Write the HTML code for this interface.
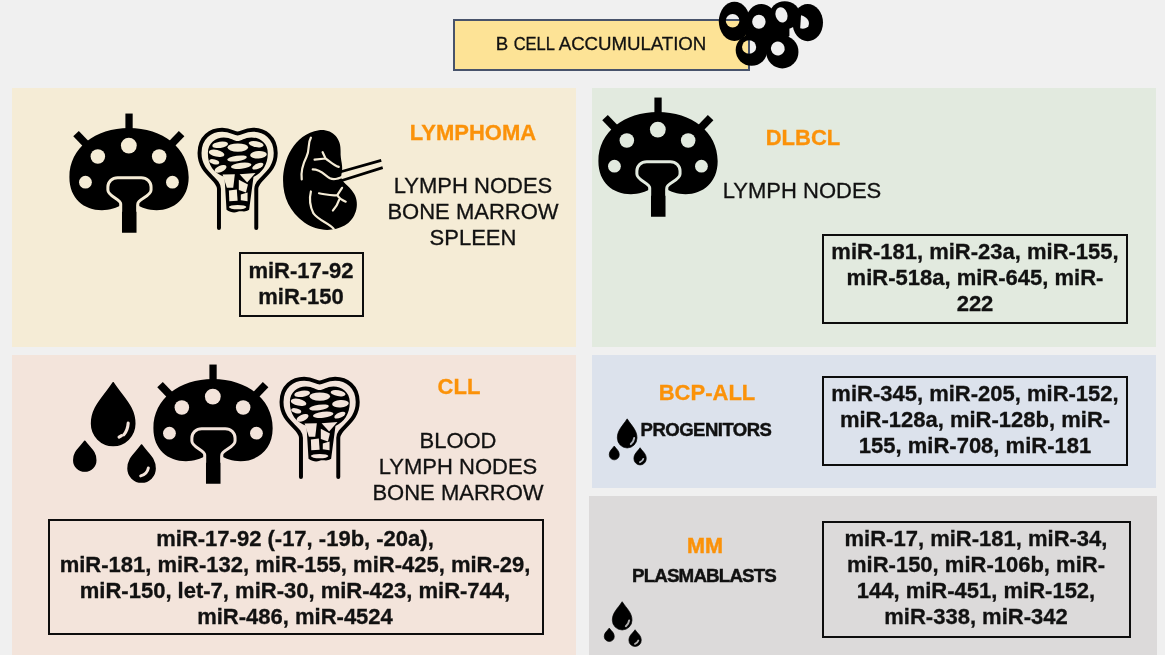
<!DOCTYPE html>
<html><head><meta charset="utf-8">
<style>
html,body{margin:0;padding:0;}
body{width:1165px;height:655px;background:#f0f0f0;position:relative;overflow:hidden;font-family:"Liberation Sans",sans-serif;color:#111;}
.p{position:absolute;}
.t{position:absolute;will-change:transform;-webkit-text-stroke:0.3px #111;white-space:nowrap;text-align:center;font-size:22px;line-height:26.1px;transform:translateX(-50%);}
.b{font-weight:bold;}
.o{color:#fb9209;font-weight:bold;-webkit-text-stroke:0.3px #fb9209;}
.box{position:absolute;box-sizing:border-box;border:2px solid #0d0d0d;}
svg{position:absolute;overflow:visible;}
</style></head><body>

<svg width="0" height="0" style="position:absolute">
<defs>
<!-- lymph node: viewBox 0 0 655 655 == 140x140 px -->
<symbol id="ln" viewBox="0 0 655 655">
  <g fill="#000" stroke="none">
  <path d="M322 108 C480 108 602 200 602 338 C602 438 532 492 452 492 C412 492 382 482 358 466 L358 598 L290 598 L290 466 C268 482 232 492 196 492 C112 492 44 438 44 338 C44 200 166 108 322 108 Z"/>
  <rect x="306" y="40" width="34" height="90"/>
  <path d="M62 146 L88 122 L150 186 L124 210 Z"/>
  <path d="M582 146 L556 122 L494 186 L520 210 Z"/>
  </g>
  <g fill="var(--bg)">
  <circle cx="322" cy="190" r="37"/>
  <circle cx="177" cy="241" r="34"/>
  <circle cx="464" cy="241" r="34"/>
  <circle cx="119" cy="361" r="30"/>
  <circle cx="526" cy="361" r="30"/>
  </g>
  <path d="M284 500 L284 462 C284 440 224 428 224 398 L224 384 C224 358 244 340 270 340 L380 340 C406 340 426 358 426 384 L426 398 C426 428 364 440 364 462 L364 500" fill="none" stroke="var(--bg)" stroke-width="14" stroke-linecap="butt"/>
</symbol>

<!-- drops: viewBox 0 0 600 655 == 110x120 px -->
<symbol id="dr" viewBox="0 0 600 655">
  <path fill="#000" stroke="#000" stroke-width="8" stroke-linejoin="round" d="M290 69.2 C349.0 159.1 408.0 202.0 408.0 294.0 A118.0 118.0 0 1 1 172.0 294.0 C172.0 202.0 231.0 159.1 290 69.2 Z M135 389.2 C165.0 430.3 195.0 445.2 195.0 492.0 A60.0 60.0 0 1 1 75.0 492.0 C75.0 445.2 105.0 430.3 135 389.2 Z M445 409.2 C482.0 460.7 519.0 480.3 519.0 538.0 A74.0 74.0 0 1 1 371.0 538.0 C371.0 480.3 408.0 460.7 445 409.2 Z"/>
  <path d="M372 290 C370 320 360 340 348 354" fill="none" stroke="var(--bg)" stroke-width="17" stroke-linecap="round"/>
  <path d="M322 366 L336 358" fill="none" stroke="var(--bg)" stroke-width="17" stroke-linecap="round"/>
  <path d="M482 535 C478 558 462 572 440 578" fill="none" stroke="var(--bg)" stroke-width="16" stroke-linecap="round"/>
</symbol>

<symbol id="drs" viewBox="0 0 600 655" preserveAspectRatio="none">
  <path fill="#000" stroke="#000" stroke-width="8" stroke-linejoin="round" d="M290 69.2 C349.0 159.1 408.0 202.0 408.0 294.0 A118.0 118.0 0 1 1 172.0 294.0 C172.0 202.0 231.0 159.1 290 69.2 Z M135 389.2 C165.0 430.3 195.0 445.2 195.0 492.0 A60.0 60.0 0 1 1 75.0 492.0 C75.0 445.2 105.0 430.3 135 389.2 Z M445 409.2 C482.0 460.7 519.0 480.3 519.0 538.0 A74.0 74.0 0 1 1 371.0 538.0 C371.0 480.3 408.0 460.7 445 409.2 Z"/>
  <path d="M374 296 C370 326 356 348 334 366" fill="none" stroke="var(--bg)" stroke-width="24" stroke-linecap="round" stroke-opacity="0.8"/>
  <path d="M484 540 C478 560 464 572 444 580" fill="none" stroke="var(--bg)" stroke-width="22" stroke-linecap="round" stroke-opacity="0.8"/>
</symbol>
<!-- bone: viewBox 0 0 504 655 == 100x130 px -->
<symbol id="bn" viewBox="0 0 504 655">
  <path d="M146 570 L146 372 C146 318 48 296 48 192 C48 112 104 74 162 74 C206 74 222 93 240 93 C258 93 274 74 318 74 C376 74 432 112 432 192 C432 296 334 318 334 372 L334 570" fill="none" stroke="#000" stroke-width="20" stroke-linecap="round" stroke-linejoin="round"/>
  <path d="M184 478 L174 312 C120 292 90 256 90 192 C90 140 130 113 170 113 C206 113 222 131 240 131 C258 131 274 113 310 113 C350 113 392 140 392 192 C392 256 362 292 320 312 L298 478 C276 494 258 480 240 488 C224 494 204 492 184 478 Z" fill="#000"/>
  <g fill="var(--bg)">
    <ellipse cx="152" cy="150" rx="40" ry="16" transform="rotate(-8 152 150)"/>
    <ellipse cx="241" cy="164" rx="52" ry="21"/>
    <ellipse cx="333" cy="147" rx="38" ry="15" transform="rotate(10 333 147)"/>
    <ellipse cx="134" cy="193" rx="40" ry="17" transform="rotate(12 134 193)"/>
    <ellipse cx="345" cy="200" rx="42" ry="19" transform="rotate(-4 345 200)"/>
    <ellipse cx="237" cy="219" rx="50" ry="14" transform="rotate(-8 237 219)"/>
    <ellipse cx="122" cy="236" rx="26" ry="12" transform="rotate(14 122 236)"/>
    <ellipse cx="258" cy="256" rx="52" ry="15" transform="rotate(-7 258 256)"/>
    <ellipse cx="154" cy="271" rx="32" ry="16" transform="rotate(-24 154 271)"/>
    <ellipse cx="342" cy="258" rx="30" ry="13" transform="rotate(-24 342 258)"/>
    <path d="M164 300 L226 298 L218 366 L186 366 Z"/>
    <path d="M250 298 L330 292 L288 340 Z"/>
    <path d="M246 326 L292 350 L282 390 L246 378 Z"/>
    <path d="M196 380 L236 376 L240 432 L198 434 Z"/>
    <path d="M256 400 L290 390 L290 434 L256 430 Z"/>
    <ellipse cx="240" cy="464" rx="44" ry="11"/>
  </g>
</symbol>

<!-- spleen: viewBox 0 0 655 655 == 120x120 px -->
<symbol id="sp" viewBox="0 0 655 655">
  <path d="M240 56 C312 48 362 100 358 172 C356 222 376 252 362 300 C354 336 402 352 432 402 C466 462 440 542 380 576 C320 610 230 610 160 560 C80 500 44 420 44 330 C44 220 100 80 240 56 Z" fill="#000"/>
  <path d="M340 288 L580 220 M352 334 L588 260" fill="none" stroke="#000" stroke-width="15" stroke-linecap="butt"/>
  <g fill="none" stroke="var(--bg)" stroke-width="12" stroke-linecap="round" stroke-linejoin="round">
    <path d="M196 96 C176 130 192 160 172 200 C152 240 140 280 146 324"/>
    <path d="M216 216 L276 210 L260 176 M276 210 C300 226 320 246 348 256"/>
    <path d="M206 270 C250 270 270 300 300 318 C324 330 350 318 380 304"/>
    <path d="M240 400 C280 406 310 416 340 410 L366 370 M340 410 C350 430 370 440 386 446 M350 436 C342 460 330 480 316 494"/>
    <path d="M196 390 C186 430 190 470 210 510 C240 550 290 560 320 594"/>
  </g>
</symbol>

<!-- cells: viewBox 0 0 982 655 == 120x80 px -->
<symbol id="ce" viewBox="0 0 982 655">
  <mask id="cm" maskUnits="userSpaceOnUse" x="0" y="0" width="982" height="655">
    <rect x="0" y="0" width="982" height="655" fill="#fff"/>
    <g fill="#000">
    <ellipse cx="185" cy="170" rx="56" ry="55"/>
    <ellipse cx="400" cy="178" rx="55" ry="58"/>
    <ellipse cx="585" cy="122" rx="48" ry="64" transform="rotate(-18 585 122)"/>
    <path d="M745 125 C800 140 820 180 805 215 C790 235 760 238 738 232 Z"/>
    <ellipse cx="320" cy="385" rx="58" ry="56"/>
    <ellipse cx="555" cy="397" rx="56" ry="58" transform="rotate(-15 555 397)"/>
    </g>
  </mask>
  <g mask="url(#cm)" fill="#000">
    <ellipse cx="200" cy="175" rx="128" ry="160"/>
    <ellipse cx="420" cy="172" rx="125" ry="140"/>
    <ellipse cx="612" cy="125" rx="125" ry="115"/>
    <ellipse cx="800" cy="185" rx="125" ry="152"/>
    <ellipse cx="340" cy="410" rx="130" ry="128"/>
    <ellipse cx="592" cy="425" rx="132" ry="135"/>
    <path d="M290 245 L500 205 L650 200 L650 295 L600 335 L290 335 Z"/><rect x="440" y="300" width="56" height="130"/>
  </g>
</symbol>
</defs>
</svg>
<!-- panels -->
<div class="p" id="p1" style="left:12px;top:88px;width:564px;height:259px;background:#f5ecd6"></div>
<div class="p" id="p2" style="left:592px;top:88px;width:564px;height:259px;background:#e2eadf"></div>
<div class="p" id="p3" style="left:12px;top:355px;width:564px;height:300px;background:#f3e4db"></div>
<div class="p" id="p4" style="left:592px;top:355px;width:564px;height:133px;background:#dce2ec"></div>
<div class="p" id="p5" style="left:589px;top:496px;width:568px;height:159px;background:#dcdada"></div>
<!-- title -->
<div class="p" id="title" style="left:453px;top:19px;width:297px;height:52px;box-sizing:border-box;background:#fde396;border:2px solid #48536b"></div>
<div class="t" id="ttl" style="left:600.8px;top:31.3px;font-size:18.7px;letter-spacing:-0.05px;-webkit-text-stroke:0.3px #111;">B <span style="display:inline-block;transform:scaleX(.885);transform-origin:0 50%;margin-right:-5.2px">CELL</span> ACCUMULATION</div>

<svg style="left:60px;top:105px;--bg:#f5ecd6" width="140" height="140"><use href="#ln"/></svg>
<svg style="left:589px;top:89px;--bg:#e2eadf" width="140" height="140"><use href="#ln"/></svg>
<svg style="left:143.5px;top:356px;--bg:#f3e4db" width="140" height="140"><use href="#ln"/></svg>

<svg style="left:190px;top:115px;--bg:#f5ecd6" width="100" height="130"><use href="#bn"/></svg>
<svg style="left:275px;top:120px;--bg:#f5ecd6" width="120" height="120"><use href="#sp"/></svg>
<svg style="left:272.4px;top:364px;--bg:#f3e4db" width="100" height="130"><use href="#bn"/></svg>
<svg style="left:60px;top:370px;--bg:#f3e4db" width="110" height="120"><use href="#dr"/></svg>
<svg style="left:602.5px;top:412.7px;--bg:#dce2ec" width="50" height="55.6"><use href="#drs" width="50" height="55.6"/></svg>
<svg style="left:598.2px;top:595.8px;--bg:#dcdada" width="50" height="54"><use href="#drs" width="50" height="54"/></svg>
<svg style="left:710px;top:0px" width="120" height="80"><use href="#ce"/></svg>
<div class="t o" id="h1" style="left:473.3px;top:119.77px;">LYMPHOMA</div>
<div class="t " id="s1" style="left:473.2px;top:172.97px;">LYMPH NODES<br>BONE MARROW<br>SPLEEN</div>
<div class="t o" id="h2" style="left:802.6px;top:124.57px;">DLBCL</div>
<div class="t " id="s2" style="left:802.2px;top:178.17px;">LYMPH NODES</div>
<div class="t o" id="h3" style="left:458.6px;top:373.67px;">CLL</div>
<div class="t " id="s3" style="left:458.2px;top:427.57px;">BLOOD<br>LYMPH NODES<br>BONE MARROW</div>
<div class="t o" id="h4" style="left:706.9px;top:380.47px;">BCP-ALL</div>
<div class="t o" id="h5" style="left:705.3px;top:533.37px;font-size:21.6px;-webkit-text-stroke:0.45px #fb9209;">MM</div>
<div class="t b" id="s4" style="left:706px;top:417.17px;font-size:18.5px;letter-spacing:-0.5px;-webkit-text-stroke:0.45px #111;">PROGENITORS</div>
<div class="t b" id="s5" style="left:704.2px;top:563.07px;font-size:18.8px;letter-spacing:-0.87px;-webkit-text-stroke:0.45px #111;">PLASMABLASTS</div>
<div class="box" id="b1" style="left:239px;top:252px;width:125px;height:65px"></div>
<div class="t b" id="m1" style="left:301.0px;top:258.17px;">miR-17-92<br>miR-150</div>
<div class="box" id="b2" style="left:822px;top:234px;width:306px;height:90px"></div>
<div class="t b" id="m2" style="left:975.0px;top:238.77px;">miR-181, miR-23a, miR-155,<br>miR-518a, miR-645, miR-<br>222</div>
<div class="box" id="b3" style="left:48px;top:519px;width:496px;height:116px"></div>
<div class="t b" id="m3" style="left:294.5px;top:525.97px;">miR-17-92 (-17, -19b, -20a),<br>miR-181, miR-132, miR-155, miR-425, miR-29,<br>miR-150, let-7, miR-30, miR-423, miR-744,<br>miR-486, miR-4524</div>
<div class="box" id="b4" style="left:822px;top:376px;width:306px;height:90px"></div>
<div class="t b" id="m4" style="left:975.0px;top:381.17px;">miR-345, miR-205, miR-152,<br>miR-128a, miR-128b, miR-<br>155, miR-708, miR-181</div>
<div class="box" id="b5" style="left:822px;top:521px;width:309px;height:117px"></div>
<div class="t b" id="m5" style="left:976.0px;top:525.57px;">miR-17, miR-181, miR-34,<br>miR-150, miR-106b, miR-<br>144, miR-451, miR-152,<br>miR-338, miR-342</div>
</body></html>
